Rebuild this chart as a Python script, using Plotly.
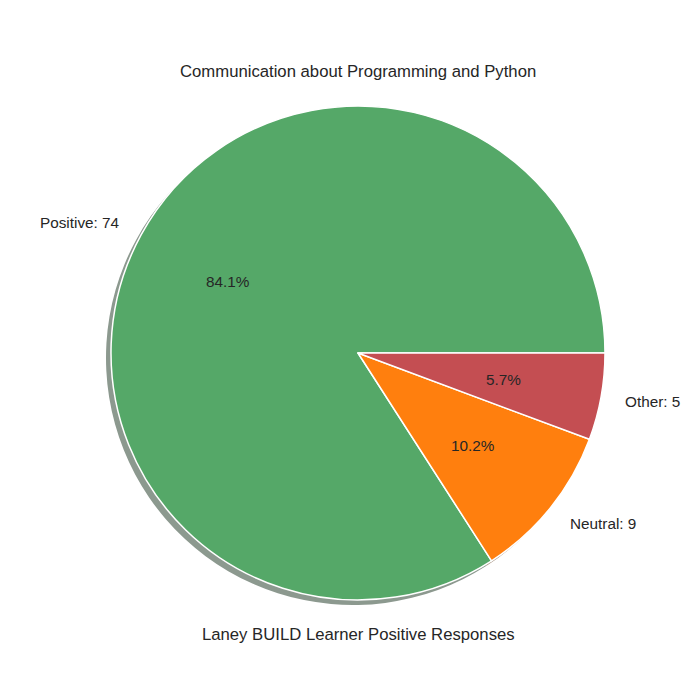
import math
import plotly.graph_objects as go

categories = ["Positive", "Neutral", "Other"]
counts = [74, 9, 5]
colors = ["#55a868", "#ff7f0e", "#c44e52"]
title = "Communication about Programming and Python"
xlabel = "Laney BUILD Learner Positive Responses"

W = H = 700
cx, cy, R = 358.0, 353.0, 247.0  # pie geometry in px
shadow_dx, shadow_dy = -5.0, 5.0
font = "Liberation Sans, Arial, sans-serif"
tcol = "#262626"
fs_lab = 15.3
fs_title = 16.7

total = sum(counts)
# plotly counterclockwise: first slice ends (clockwise sense) at `rotation`;
# make the first slice start at 3 o'clock like matplotlib's startangle=0
rot = 90 - 360 * counts[0] / total


def domain(dx=0.0, dy=0.0):
    x0 = (cx + dx - R) / W
    x1 = (cx + dx + R) / W
    y0 = 1 - (cy + dy + R) / H
    y1 = 1 - (cy + dy - R) / H
    return dict(x=[x0, x1], y=[y0, y1])


def shade(hexc):
    r, g, b = int(hexc[1:3], 16), int(hexc[3:5], 16), int(hexc[5:7], 16)
    f = lambda c: round(0.15 * c + 127.5)
    return f"rgb({f(r)},{f(g)},{f(b)})"


fig = go.Figure()
fig.add_trace(go.Pie(
    labels=categories, values=counts, sort=False, direction="counterclockwise",
    rotation=rot, domain=domain(shadow_dx, shadow_dy), textinfo="none",
    marker=dict(colors=[shade(c) for c in colors], line=dict(width=0)),
    hoverinfo="skip", showlegend=False,
))
fig.add_trace(go.Pie(
    labels=categories, values=counts, sort=False, direction="counterclockwise",
    rotation=rot, domain=domain(), textinfo="none",
    marker=dict(colors=colors, line=dict(color="white", width=1.5)),
    showlegend=False,
))

start = 0.0
annotations = []
for name, v in zip(categories, counts):
    frac = v / total
    mid = math.radians((start + frac / 2) * 360)
    start += frac
    lx = cx + 1.1 * R * math.cos(mid)
    ly = cy - 1.1 * R * math.sin(mid)
    annotations.append(dict(
        x=lx / W, y=1 - ly / H, xref="paper", yref="paper", showarrow=False,
        text=f"{name}: {v}", xanchor="right" if math.cos(mid) < 0 else "left",
        yanchor="middle", borderpad=0, borderwidth=0,
        font=dict(family=font, size=fs_lab, color=tcol)))
    px = cx + 0.6 * R * math.cos(mid)
    py = cy - 0.6 * R * math.sin(mid)
    annotations.append(dict(
        x=px / W, y=1 - py / H, xref="paper", yref="paper", showarrow=False,
        text=f"{frac * 100:.1f}%", xanchor="center", yanchor="middle",
        borderpad=0, borderwidth=0,
        font=dict(family=font, size=fs_lab, color=tcol)))

annotations.append(dict(x=cx / W, y=1 - 71 / H, xref="paper", yref="paper",
                        showarrow=False, text=title, xanchor="center", yanchor="middle",
                        font=dict(family=font, size=fs_title, color=tcol)))
annotations.append(dict(x=cx / W, y=1 - 634 / H, xref="paper", yref="paper",
                        showarrow=False, text=xlabel, xanchor="center", yanchor="middle",
                        font=dict(family=font, size=fs_title, color=tcol)))

fig.update_layout(width=W, height=H, margin=dict(l=0, r=0, t=0, b=0),
                  paper_bgcolor="white", plot_bgcolor="white",
                  annotations=annotations)
fig.write_html("out.html")
